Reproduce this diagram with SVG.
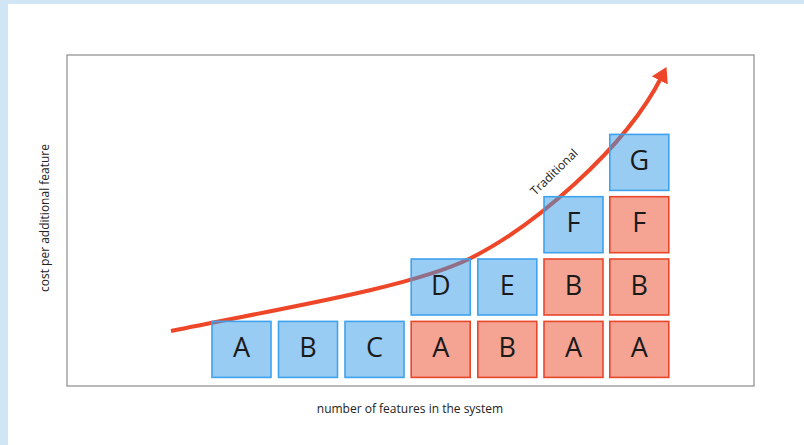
<svg xmlns="http://www.w3.org/2000/svg" width="804" height="445" viewBox="0 0 804 445">
<style>
.lbl{font-family:"Open Sans","Noto Sans",sans-serif;fill:#222;}
.box text{font-family:"Open Sans","Noto Sans",sans-serif;font-size:27px;fill:#1a1a1a;text-anchor:middle;}
.blue rect{fill:#3399E6;fill-opacity:0.5;stroke:#3FA2EE;stroke-width:1.6;}
.red rect{fill:#EB4726;fill-opacity:0.5;stroke:#E8472C;stroke-width:1.6;}
.curve{fill:none;stroke:#EE4628;stroke-width:4;}
</style>
<defs>
<marker id="ah" markerUnits="userSpaceOnUse" viewBox="0 0 15 18" markerWidth="15" markerHeight="18" refX="5" refY="9" orient="auto">
<path d="M0,0 L15,9 L0,18 z" fill="#EE4628"/>
</marker>
</defs>
<rect x="0" y="0" width="804" height="445" fill="#D0E6F4"/>
<rect x="8" y="4" width="796" height="441" fill="#FFFFFF"/>
<g id="frame">
<rect x="67" y="55" width="687" height="331" fill="none" stroke="#8A8A8A" stroke-width="1.2"/>
<text class="lbl" x="410" y="413" font-size="12" text-anchor="middle">number of features in the system</text>
<text class="lbl" x="0" y="0" font-size="12" text-anchor="middle" transform="translate(49,218) rotate(-90)">cost per additional feature</text>
</g>
<g id="connectors">
<path class="curve" d="M171,331 C271,310 411,288 471,258 C531,228 625,150 662,76" marker-end="url(#ah)"/>
<text class="lbl" font-size="12" text-anchor="middle" transform="translate(557,175) rotate(-44)">Traditional</text>
</g>
<g id="n-a1" class="box blue"><rect x="212" y="321.4" width="59" height="56"/><text x="241.5" y="357">A</text></g>
<g id="n-b1" class="box blue"><rect x="278.5" y="321.4" width="59" height="56"/><text x="308" y="357">B</text></g>
<g id="n-c1" class="box blue"><rect x="345" y="321.4" width="59" height="56"/><text x="374.5" y="357">C</text></g>
<g id="n-a2" class="box red"><rect x="411.2" y="321.4" width="59" height="56"/><text x="440.7" y="357">A</text></g>
<g id="n-b2" class="box red"><rect x="477.8" y="321.4" width="59" height="56"/><text x="507.3" y="357">B</text></g>
<g id="n-a3" class="box red"><rect x="544" y="321.4" width="59" height="56"/><text x="573.5" y="357">A</text></g>
<g id="n-a4" class="box red"><rect x="609.8" y="321.4" width="59" height="56"/><text x="639.3" y="357">A</text></g>
<g id="n-d" class="box blue"><rect x="411.2" y="259" width="59" height="56"/><text x="440.7" y="294.6">D</text></g>
<g id="n-e" class="box blue"><rect x="477.8" y="259" width="59" height="56"/><text x="507.3" y="294.6">E</text></g>
<g id="n-b3" class="box red"><rect x="544" y="259" width="59" height="56"/><text x="573.5" y="294.6">B</text></g>
<g id="n-b4" class="box red"><rect x="609.8" y="259" width="59" height="56"/><text x="639.3" y="294.6">B</text></g>
<g id="n-f1" class="box blue"><rect x="544" y="196.7" width="59" height="56"/><text x="573.5" y="232.3">F</text></g>
<g id="n-f2" class="box red"><rect x="609.8" y="196.7" width="59" height="56"/><text x="639.3" y="232.3">F</text></g>
<g id="n-g" class="box blue"><rect x="609.8" y="134.4" width="59" height="56"/><text x="639.3" y="170">G</text></g>
</svg>
